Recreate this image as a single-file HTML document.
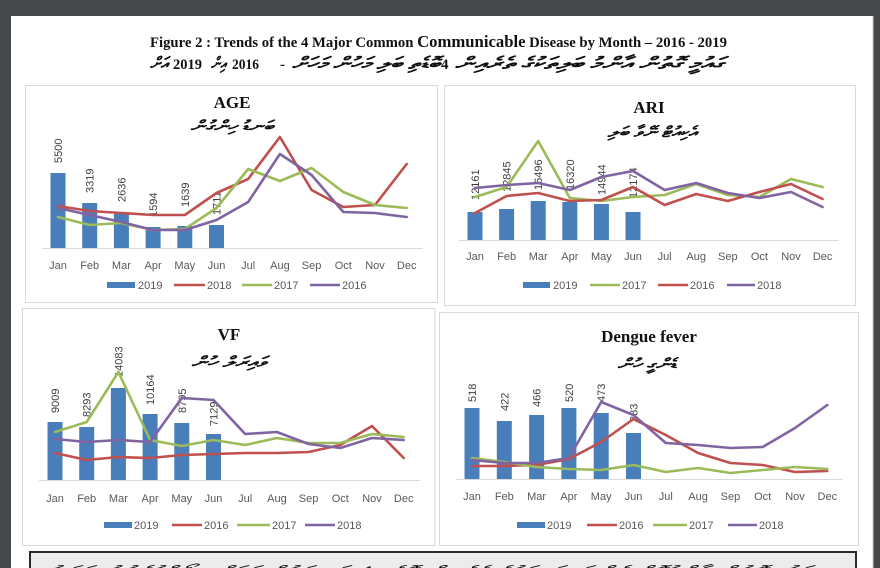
<!DOCTYPE html>
<html><head><meta charset="utf-8"><style>
html,body{margin:0;padding:0;background:#45494c;}
svg{display:block;}
.ax{font-family:"Liberation Sans",sans-serif;font-size:11px;fill:#595959;}
.dl{font-family:"Liberation Sans",sans-serif;font-size:11px;fill:#404040;}
.tt{font-family:"Liberation Serif",serif;font-weight:bold;font-size:17px;fill:#111;}
.th{font-family:"Liberation Serif","DejaVu Sans",serif;font-style:italic;font-weight:bold;font-size:15px;fill:#111;}
.ln{fill:none;stroke-width:2.6;stroke-linejoin:round;stroke-linecap:round;}
.r{stroke:#c0504d}.g{stroke:#9bbb59}.p{stroke:#8064a2}
</style></head><body>
<svg width="880" height="568" viewBox="0 0 880 568" xmlns="http://www.w3.org/2000/svg">
<rect x="0" y="0" width="880" height="568" fill="#45494c"/>
<rect x="11" y="16" width="862" height="552" fill="#ffffff"/>
<line x1="873" y1="16" x2="873" y2="568" stroke="#cfcfcf" stroke-width="1"/>

<!-- Header -->
<text x="150" y="47" class="tt" style="font-size:15px" textLength="577" lengthAdjust="spacingAndGlyphs">Figure 2 : Trends of the 4 Major Common <tspan style="font-size:17px">Communicable</tspan> Disease by Month – 2016 - 2019</text>
<text x="150" y="69" class="th" style="font-size:17px" textLength="18" lengthAdjust="spacingAndGlyphs">އަށް</text>
<text x="173" y="69" class="tt" style="font-size:15px" textLength="29" lengthAdjust="spacingAndGlyphs">2019</text>
<text x="211" y="69" class="th" style="font-size:17px" textLength="15" lengthAdjust="spacingAndGlyphs">އިން</text>
<text x="232" y="69" class="tt" style="font-size:15px" textLength="27" lengthAdjust="spacingAndGlyphs">2016</text>
<text x="280" y="69" class="tt" style="font-size:15px">-</text>
<text x="292" y="69" class="th" style="font-size:17px" textLength="148" lengthAdjust="spacingAndGlyphs">ބޮޑެތި ބަލި މަހުން މަހަށް</text>
<text x="441" y="69" class="tt" style="font-size:15px">4</text>
<text x="455" y="69" class="th" style="font-size:17px" textLength="269" lengthAdjust="spacingAndGlyphs">ގައުމީ ގޮތުން އާންމު ބަލިތަކުގެ ތެރެއިން</text>

<!-- Panels -->
<rect x="25.5" y="85.5" width="412" height="217" fill="#fff" stroke="#d9d9d9"/>
<rect x="444.5" y="85.5" width="411" height="220" fill="#fff" stroke="#d9d9d9"/>
<rect x="22.5" y="308.5" width="412.5" height="237" fill="#fff" stroke="#d9d9d9"/>
<rect x="439.5" y="312.5" width="419" height="233" fill="#fff" stroke="#d9d9d9"/>

<!-- ===== AGE ===== -->
<text x="232" y="108" class="tt" text-anchor="middle">AGE</text>
<text x="232" y="131" class="th" text-anchor="middle" textLength="83" lengthAdjust="spacingAndGlyphs">ބަނޑު ހިންގުން</text>
<line x1="42" y1="248.5" x2="423" y2="248.5" stroke="#d9d9d9"/>
<g fill="#4a7ebb">
<rect x="50.5" y="173" width="15" height="75"/>
<rect x="82.2" y="203" width="15" height="45"/>
<rect x="113.9" y="213" width="15" height="35"/>
<rect x="145.6" y="227" width="15" height="21"/>
<rect x="177.3" y="226" width="15" height="22"/>
<rect x="209" y="225" width="15" height="23"/>
</g>
<g class="dl">
<text transform="translate(62,163) rotate(-90)">5500</text>
<text transform="translate(93.7,193) rotate(-90)">3319</text>
<text transform="translate(125.4,202) rotate(-90)">2636</text>
<text transform="translate(157.1,217) rotate(-90)">1594</text>
<text transform="translate(188.8,207) rotate(-90)">1639</text>
<text transform="translate(220.5,215) rotate(-90)">1711</text>
</g>
<polyline class="ln r" points="58,206 89.7,211 121.4,213 153.1,215 184.8,215 216.5,193 248.2,179 279.9,137 311.6,190 343.3,207 375,205 406.7,164"/>
<polyline class="ln g" points="58,217 89.7,225 121.4,223 153.1,230 184.8,229 216.5,208 248.2,169 279.9,181 311.6,168 343.3,192 375,205 406.7,208"/>
<polyline class="ln p" points="58,208 89.7,215 121.4,222 153.1,230 184.8,230 216.5,220 248.2,202 279.9,154 311.6,175 343.3,212 375,213 406.7,217"/>
<g class="ax" text-anchor="middle">
<text x="58" y="269">Jan</text><text x="89.7" y="269">Feb</text><text x="121.4" y="269">Mar</text><text x="153.1" y="269">Apr</text><text x="184.8" y="269">May</text><text x="216.5" y="269">Jun</text><text x="248.2" y="269">Jul</text><text x="279.9" y="269">Aug</text><text x="311.6" y="269">Sep</text><text x="343.3" y="269">Oct</text><text x="375" y="269">Nov</text><text x="406.7" y="269">Dec</text>
</g>
<rect x="107" y="282" width="28" height="6" fill="#4a7ebb"/>
<line class="ln r" x1="174" y1="285" x2="205" y2="285" style="stroke-linecap:butt"/>
<line class="ln g" x1="242" y1="285" x2="272" y2="285" style="stroke-linecap:butt"/>
<line class="ln p" x1="310" y1="285" x2="340" y2="285" style="stroke-linecap:butt"/>
<g class="ax"><text x="138" y="289">2019</text><text x="207" y="289">2018</text><text x="274" y="289">2017</text><text x="342" y="289">2016</text></g>

<!-- ===== ARI ===== -->
<text x="649" y="113" class="tt" text-anchor="middle">ARI</text>
<text x="652" y="137" class="th" text-anchor="middle" textLength="89" lengthAdjust="spacingAndGlyphs">އެކިއުޓް ނޭވާ ބަލި</text>
<line x1="459" y1="240.5" x2="839" y2="240.5" stroke="#d9d9d9"/>
<g fill="#4a7ebb">
<rect x="467.5" y="212" width="15" height="28"/>
<rect x="499.1" y="209" width="15" height="31"/>
<rect x="530.7" y="201" width="15" height="39"/>
<rect x="562.3" y="202" width="15" height="38"/>
<rect x="593.9" y="204" width="15" height="36"/>
<rect x="625.5" y="212" width="15" height="28"/>
</g>
<g class="dl">
<text transform="translate(479,200) rotate(-90)">12161</text>
<text transform="translate(510.6,192) rotate(-90)">12845</text>
<text transform="translate(542.2,190) rotate(-90)">16496</text>
<text transform="translate(573.8,190) rotate(-90)">16320</text>
<text transform="translate(605.4,195) rotate(-90)">14944</text>
<text transform="translate(637,198) rotate(-90)">12174</text>
</g>
<polyline class="ln g" points="475,197 506.6,187 538.2,141 569.8,198 601.4,201 633,197 664.6,195 696.2,184 727.8,195 759.4,197 791,179 822.6,187"/>
<polyline class="ln r" points="475,213 506.6,196 538.2,193 569.8,201 601.4,200 633,187 664.6,205 696.2,194 727.8,201 759.4,192 791,184 822.6,199"/>
<polyline class="ln p" points="475,188 506.6,185 538.2,183 569.8,190 601.4,177 633,171 664.6,190 696.2,183 727.8,193 759.4,198 791,192 822.6,207"/>
<g class="ax" text-anchor="middle">
<text x="475" y="260">Jan</text><text x="506.6" y="260">Feb</text><text x="538.2" y="260">Mar</text><text x="569.8" y="260">Apr</text><text x="601.4" y="260">May</text><text x="633" y="260">Jun</text><text x="664.6" y="260">Jul</text><text x="696.2" y="260">Aug</text><text x="727.8" y="260">Sep</text><text x="759.4" y="260">Oct</text><text x="791" y="260">Nov</text><text x="822.6" y="260">Dec</text>
</g>
<rect x="523" y="282" width="27" height="6" fill="#4a7ebb"/>
<line class="ln g" x1="590" y1="285" x2="620" y2="285" style="stroke-linecap:butt"/>
<line class="ln r" x1="658" y1="285" x2="688" y2="285" style="stroke-linecap:butt"/>
<line class="ln p" x1="727" y1="285" x2="755" y2="285" style="stroke-linecap:butt"/>
<g class="ax"><text x="553" y="289">2019</text><text x="622" y="289">2017</text><text x="690" y="289">2016</text><text x="757" y="289">2018</text></g>

<!-- ===== VF ===== -->
<text x="229" y="340" class="tt" text-anchor="middle">VF</text>
<text x="229" y="367" class="th" text-anchor="middle" textLength="75" lengthAdjust="spacingAndGlyphs">ވައިރަލް ހުން</text>
<line x1="39" y1="480.5" x2="420" y2="480.5" stroke="#d9d9d9"/>
<g fill="#4a7ebb">
<rect x="47.5" y="422" width="15" height="58"/>
<rect x="79.2" y="427" width="15" height="53"/>
<rect x="110.9" y="388" width="15" height="92"/>
<rect x="142.6" y="414" width="15" height="66"/>
<rect x="174.3" y="423" width="15" height="57"/>
<rect x="206" y="434" width="15" height="46"/>
</g>
<g class="dl">
<text transform="translate(59,413) rotate(-90)">9009</text>
<text transform="translate(90.7,417) rotate(-90)">8293</text>
<text transform="translate(122.4,377) rotate(-90)">14083</text>
<text transform="translate(154.1,405) rotate(-90)">10164</text>
<text transform="translate(185.8,413) rotate(-90)">8795</text>
<text transform="translate(217.5,426) rotate(-90)">7129</text>
</g>
<polyline class="ln r" points="55,453 86.7,460 118.4,457 150.1,458 181.8,455 213.5,454 245.2,453 276.9,453 308.6,452 340.3,445 372,426 403.7,458"/>
<polyline class="ln g" points="55,432 86.7,422 118.4,372 150.1,440 181.8,446 213.5,440 245.2,445 276.9,438 308.6,443 340.3,443 372,434 403.7,437"/>
<polyline class="ln p" points="55,439 86.7,442 118.4,440 150.1,442 181.8,398 213.5,400 245.2,434 276.9,432 308.6,444 340.3,448 372,438 403.7,440"/>
<g class="ax" text-anchor="middle">
<text x="55" y="502">Jan</text><text x="86.7" y="502">Feb</text><text x="118.4" y="502">Mar</text><text x="150.1" y="502">Apr</text><text x="181.8" y="502">May</text><text x="213.5" y="502">Jun</text><text x="245.2" y="502">Jul</text><text x="276.9" y="502">Aug</text><text x="308.6" y="502">Sep</text><text x="340.3" y="502">Oct</text><text x="372" y="502">Nov</text><text x="403.7" y="502">Dec</text>
</g>
<rect x="104" y="522" width="28" height="6" fill="#4a7ebb"/>
<line class="ln r" x1="172" y1="525" x2="202" y2="525" style="stroke-linecap:butt"/>
<line class="ln g" x1="237" y1="525" x2="270" y2="525" style="stroke-linecap:butt"/>
<line class="ln p" x1="305" y1="525" x2="335" y2="525" style="stroke-linecap:butt"/>
<g class="ax"><text x="134" y="529">2019</text><text x="204" y="529">2016</text><text x="272" y="529">2017</text><text x="337" y="529">2018</text></g>

<!-- ===== Dengue ===== -->
<text x="649" y="342" class="tt" text-anchor="middle">Dengue  fever</text>
<text x="647" y="369" class="th" text-anchor="middle" textLength="59" lengthAdjust="spacingAndGlyphs">ޑެންގީ ހުން</text>
<line x1="456" y1="479.5" x2="843" y2="479.5" stroke="#d9d9d9"/>
<g fill="#4a7ebb">
<rect x="464.5" y="408" width="15" height="71"/>
<rect x="496.8" y="421" width="15" height="58"/>
<rect x="529.1" y="415" width="15" height="64"/>
<rect x="561.4" y="408" width="15" height="71"/>
<rect x="593.7" y="413" width="15" height="66"/>
<rect x="626" y="433" width="15" height="46"/>
</g>
<g class="dl">
<text transform="translate(476,402) rotate(-90)">518</text>
<text transform="translate(508.3,411) rotate(-90)">422</text>
<text transform="translate(540.6,407) rotate(-90)">466</text>
<text transform="translate(572.9,402) rotate(-90)">520</text>
<text transform="translate(605.2,402) rotate(-90)">473</text>
<text transform="translate(637.5,422) rotate(-90)">383</text>
</g>
<polyline class="ln r" points="472,466 504.3,466 536.6,465 568.9,459 601.2,442 633.5,419 665.8,435 698.1,453 730.4,463 762.7,465 795,472 827.3,471"/>
<polyline class="ln g" points="472,458 504.3,462 536.6,467 568.9,469 601.2,470 633.5,465 665.8,472 698.1,468 730.4,473 762.7,470 795,467 827.3,469"/>
<polyline class="ln p" points="472,460 504.3,463 536.6,463 568.9,458 601.2,402 633.5,415 665.8,443 698.1,445 730.4,448 762.7,447 795,428 827.3,405"/>
<g class="ax" text-anchor="middle">
<text x="472" y="500">Jan</text><text x="504.3" y="500">Feb</text><text x="536.6" y="500">Mar</text><text x="568.9" y="500">Apr</text><text x="601.2" y="500">May</text><text x="633.5" y="500">Jun</text><text x="665.8" y="500">Jul</text><text x="698.1" y="500">Aug</text><text x="730.4" y="500">Sep</text><text x="762.7" y="500">Oct</text><text x="795" y="500">Nov</text><text x="827.3" y="500">Dec</text>
</g>
<rect x="517" y="522" width="28" height="6" fill="#4a7ebb"/>
<line class="ln r" x1="587" y1="525" x2="617" y2="525" style="stroke-linecap:butt"/>
<line class="ln g" x1="653" y1="525" x2="687" y2="525" style="stroke-linecap:butt"/>
<line class="ln p" x1="728" y1="525" x2="757" y2="525" style="stroke-linecap:butt"/>
<g class="ax"><text x="547" y="529">2019</text><text x="619" y="529">2016</text><text x="689" y="529">2017</text><text x="759" y="529">2018</text></g>

<!-- Bottom box -->
<rect x="30" y="552" width="826" height="20" fill="#ececec" stroke="#2a2a2a" stroke-width="2"/>
<text x="45" y="575" class="th" style="font-size:13px;font-weight:normal" textLength="800" lengthAdjust="spacingAndGlyphs">މިއީ ގައުމީ ގޮތުން އާންމުކޮށް ފެންނަ ބަލިތަކުގެ ތެރެއިން ބޮޑެތި 4 ބަލި މަހުން މަހަށް ރިޕޯޓްކުރެވުނު އަދަދު</text>
</svg>
</body></html>
